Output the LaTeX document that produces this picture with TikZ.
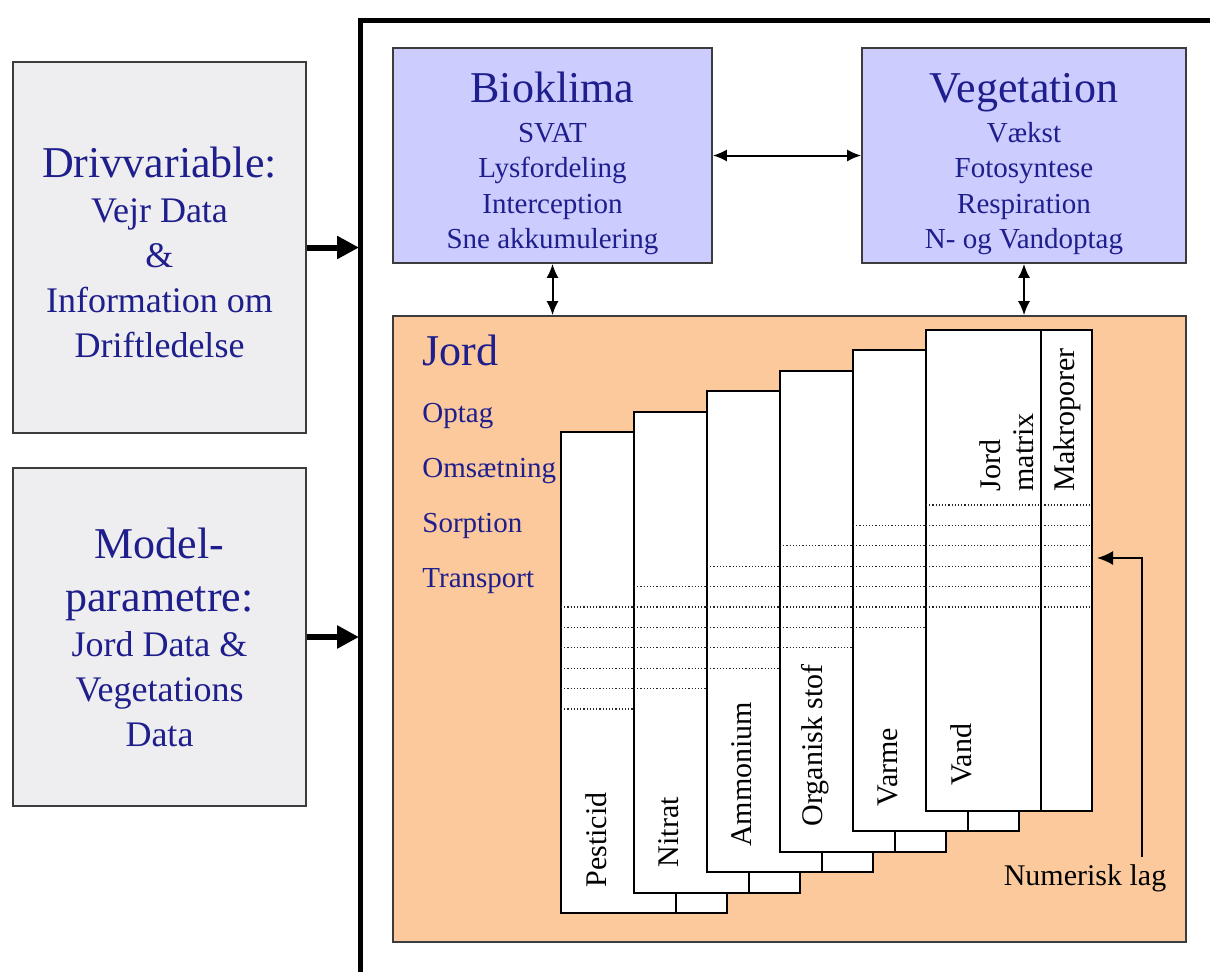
\documentclass[tikz,border=0pt]{standalone}
\usepackage{fontspec}
\setmainfont{Liberation Serif}
\usetikzlibrary{arrows.meta}

\definecolor{txtblue}{RGB}{30,30,140}
\definecolor{boxgray}{RGB}{238,238,240}
\definecolor{lavender}{RGB}{204,204,255}
\definecolor{soil}{RGB}{251,201,156}
\definecolor{edgegray}{RGB}{60,60,60}

\newcommand{\bigtxt}{\fontsize{22}{26}\selectfont}

\begin{document}
\begin{tikzpicture}[x=0.5pt, y=-0.5pt,
    inbox/.style={draw=edgegray, line width=0.8pt, fill=boxgray, align=center,
      text=txtblue, minimum width=146.5pt, font=\fontsize{18}{22.5}\selectfont},
    modbox/.style={draw=edgegray, line width=0.8pt, fill=lavender, align=center,
      text=txtblue, minimum height=107.5pt, font=\fontsize{14.5}{17.75}\selectfont},
    card/.style={draw, line width=1pt, fill=white, anchor=north west,
      minimum width=83pt, minimum height=240.5pt, inner sep=0pt, outer sep=0pt},
    layer/.style={densely dotted, line width=0.6pt, black!85},
    cardlab/.style={rotate=90, anchor=west, inner sep=0pt, font=\fontsize{15}{16.5}\selectfont},
    bigarrow/.style={line width=3pt, -{Triangle[length=11pt,width=11pt]}},
    dblarrow/.style={line width=1pt, {Latex[length=7pt,width=6pt]}-{Latex[length=7pt,width=6pt]}},
    thinarrow/.style={line width=1pt, -{Latex[length=8pt,width=7pt]}}]

  \useasboundingbox (0,0) rectangle (1210,971);

  % model frame
  \draw[line width=2.5pt] (360,990) -- (360,20) -- (1230,20);
  \coordinate (frameL) at (359,0);

  % inputs
  \node[inbox, minimum height=185.5pt] (drv) at (159.5,247.5)
    {{\bigtxt\rule{0pt}{20pt}Drivvariable:}\\Vejr Data\\\&\\Information om\\Driftledelse};
  \node[inbox, minimum height=169pt] (par) at (159.5,637)
    {{\bigtxt Model-}\\[4pt]{\bigtxt parametre:}\\Jord Data \&\\Vegetations\\Data};

  \draw[bigarrow] (drv.east) -- (drv.east -| frameL);
  \draw[bigarrow] (par.east) -- (par.east -| frameL);

  % modules
  \node[modbox, minimum width=159.5pt] (bio) at (552.5,155.5)
    {{\bigtxt\rule{0pt}{23.5pt}Bioklima}\\[2pt]SVAT\\Lysfordeling\\Interception\\Sne akkumulering};
  \node[modbox, minimum width=162pt] (veg) at (1024,155.5)
    {{\bigtxt\rule{0pt}{23.5pt}Vegetation}\\[2pt]Vækst\\Fotosyntese\\Respiration\\N- og Vandoptag};
  \node[draw=edgegray, line width=0.8pt, fill=soil, minimum width=396.5pt,
    minimum height=313pt] (jord) at (789.5,629) {};

  \draw[dblarrow] (bio.east) -- (veg.west);
  \draw[dblarrow] (bio.south) -- (bio.south |- jord.north);
  \draw[dblarrow] (veg.south) -- (veg.south |- jord.north);

  \node[anchor=base west, inner sep=0pt, text=txtblue, font=\bigtxt] (jordtitle) at (422,365) {Jord};
  \foreach \txt [count=\i] in {Optag,Omsætning,Sorption,Transport}
    \node[anchor=base west, inner sep=0pt, text=txtblue, font=\fontsize{14.5}{17}\selectfont]
      (proc\i) at (422,{367+55*\i}) {\txt};

  % stacked soil layers
  \foreach \lab [count=\k from 0] in {Pesticid,Nitrat,Ammonium,Organisk stof,Varme,Vand}{
    \pgfmathsetmacro{\cx}{561+73*\k}
    \pgfmathsetmacro{\cy}{432-20.4*\k}
    \node[card] (card\k) at (\cx,\cy) {};
    \foreach \j in {0,...,5}
      \draw[layer] (\cx,\cy+175+20.4*\j) -- (\cx+166,\cy+175+20.4*\j);
    \draw[line width=1pt] (\cx+115,\cy) -- (\cx+115,\cy+481);
    \node[cardlab] (lab\k) at (\cx+35,\cy+456) {\lab};
  }
  \node[cardlab, align=left] (jordmatrix) at (1007,492) {Jord\\matrix};
  \node[cardlab] (makro) at (1067,492) {Makroporer};

  \node[anchor=base, font=\fontsize{15}{18}\selectfont] (numlag) at (1085,885) {Numerisk lag};
  \coordinate (laytip) at (1097,558);
  \draw[thinarrow] ([xshift=28.5pt]numlag.north) |- (laytip);
\end{tikzpicture}
\end{document}
